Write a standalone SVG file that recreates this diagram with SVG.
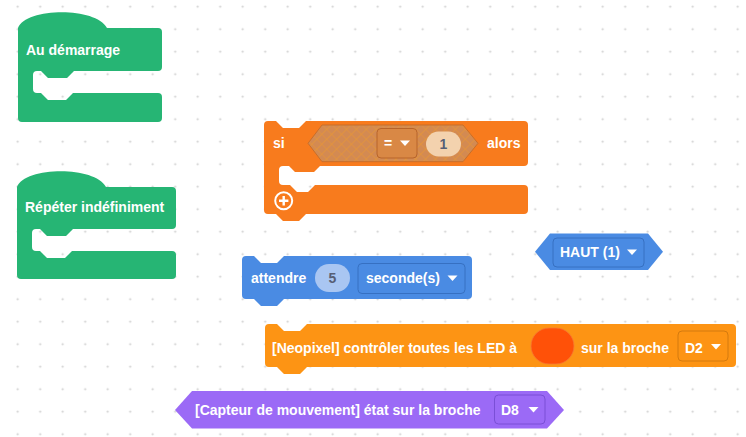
<svg xmlns="http://www.w3.org/2000/svg" width="746" height="437" viewBox="0 0 746 437">
<defs>
<pattern id="grid" patternUnits="userSpaceOnUse" x="6.45" y="-4.55" width="22.5" height="22.5">
<circle cx="11.25" cy="11.25" r="1.1" fill="#cfcfcf"/>
</pattern>
<pattern id="hatch" patternUnits="userSpaceOnUse" width="7" height="7" patternTransform="rotate(45)">
<rect width="7" height="7" fill="#D38A52"/>
<path d="M0,0 H7 M0,0 V7" stroke="#E99734" stroke-width="1.2"/>
</pattern>
<style>
text{font-family:"Liberation Sans",Arial,sans-serif;font-weight:bold;font-size:14px;fill:#fff}
.dark{fill:#575E75}
.arrow{fill:#fff}
</style>
</defs>
<rect width="746" height="437" fill="#ffffff"/>
<rect width="746" height="437" fill="url(#grid)"/>

<g id="connectors"/>

<g id="au-demarrage">
<path d="M18,28 C25,8 95,6 107,28 H158 Q162,28 162,32 V67 Q162,71 158,71 H74 L67,78 H48 L41,71 H37 Q33,71 33,75 V89 Q33,93 37,93 H41 L48,100 H66 L73,93 H158 Q162,93 162,97 V118 Q162,122 158,122 H22 Q18,122 18,118 Z" fill="#26B574"/>
<text x="26" y="55">Au démarrage</text>
</g>

<g id="repeter">
<path d="M17,187 C24,167 94,165 106,187 H172 Q176,187 176,191 V225 Q176,229 172,229 H73 L66,236 H47 L40,229 H36 Q32,229 32,233 V247 Q32,251 36,251 H40 L47,258 H65 L72,251 H172 Q176,251 176,255 V275 Q176,279 172,279 H21 Q17,279 17,275 Z" fill="#26B574"/>
<text x="25" y="212">Répéter indéfiniment</text>
</g>

<g id="si-alors">
<path d="M264,125 Q264,121 268,121 H276 L283,128 H299 L306,121 H524 Q528,121 528,125 V162 Q528,166 524,166 H320 L314,172 H295 L289,166 H283 Q279,166 279,170 V181 Q279,185 283,185 H290 L297,192 H308 L315,185 H524 Q528,185 528,189 V210 Q528,214 524,214 H306 L299,221 H283 L276,214 H268 Q264,214 264,210 Z" fill="#F87B1D"/>
<text x="273" y="148">si</text>
<polygon points="308,143.3 322,125 463,125 478,143.3 463,161.7 322,161.7" fill="url(#hatch)" stroke="#C86E2A" stroke-width="1"/>
<rect x="377" y="128.5" width="40" height="29.5" rx="4" fill="#D98845" stroke="#B8642A" stroke-width="1"/>
<text x="384" y="148">=</text>
<polygon class="arrow" points="400,140.5 410,140.5 405,146"/>
<rect x="426" y="131.5" width="35" height="25" rx="12.5" fill="#F3D2AE"/>
<text class="dark" x="443.5" y="148.5" text-anchor="middle">1</text>
<text x="487" y="148">alors</text>
<circle cx="283.7" cy="200.7" r="8.5" fill="none" stroke="#fff" stroke-width="2"/>
<path d="M283.7,196 V205.4 M279,200.7 H288.4" stroke="#fff" stroke-width="2.4"/>
</g>

<g id="haut">
<polygon points="535,251.7 550,233.5 648,233.5 663,251.7 648,270 550,270" fill="#4A8BE3"/>
<rect x="553" y="238" width="91" height="29" rx="4" fill="#4A8BE3" stroke="#3670C2" stroke-width="1"/>
<text x="560" y="257">HAUT (1)</text>
<polygon class="arrow" points="627,249.5 637,249.5 632,255"/>
</g>

<g id="attendre">
<path d="M242,260 Q242,256 246,256 H254 L261,263 H277 L284,256 H468 Q472,256 472,260 V295 Q472,299 468,299 H284 L277,306 H261 L254,299 H246 Q242,299 242,295 Z" fill="#4A8BE3"/>
<text x="251" y="283">attendre</text>
<rect x="315" y="264" width="35" height="28" rx="14" fill="#A9C6F2"/>
<text class="dark" x="332.5" y="283" text-anchor="middle">5</text>
<rect x="358" y="263.5" width="107" height="30" rx="4" fill="#4A8BE3" stroke="#3670C2" stroke-width="1"/>
<text x="366" y="283">seconde(s)</text>
<polygon class="arrow" points="447.5,275.5 457.5,275.5 452.5,281"/>
</g>

<g id="neopixel">
<path d="M265,328 Q265,324 269,324 H277 L284,331 H300 L307,324 H732 Q736,324 736,328 V363 Q736,367 732,367 H307 L300,374 H284 L277,367 H269 Q265,367 265,363 Z" fill="#FD9414"/>
<text x="272" y="352.5">[Neopixel] contrôler toutes les LED à</text>
<rect x="531" y="328" width="43" height="36" rx="18" fill="#FF5108" stroke="#F57A35" stroke-width="0.8"/>
<text x="581" y="352.5">sur la broche</text>
<rect x="678" y="331" width="50" height="30" rx="4" fill="#FD9414" stroke="#D47A0E" stroke-width="1"/>
<text x="685" y="352.5">D2</text>
<polygon class="arrow" points="711,344 721,344 716,349.5"/>
</g>

<g id="capteur">
<polygon points="175,410 192,391 547,391 564,410 547,428.5 192,428.5" fill="#9B6AF6"/>
<text x="195" y="415">[Capteur de mouvement] état sur la broche</text>
<rect x="494.5" y="395" width="50.5" height="29" rx="4" fill="#9B6AF6" stroke="#7A4FD6" stroke-width="1"/>
<text x="501" y="415">D8</text>
<polygon class="arrow" points="528.5,407 538.5,407 533.5,412.5"/>
</g>
</svg>
